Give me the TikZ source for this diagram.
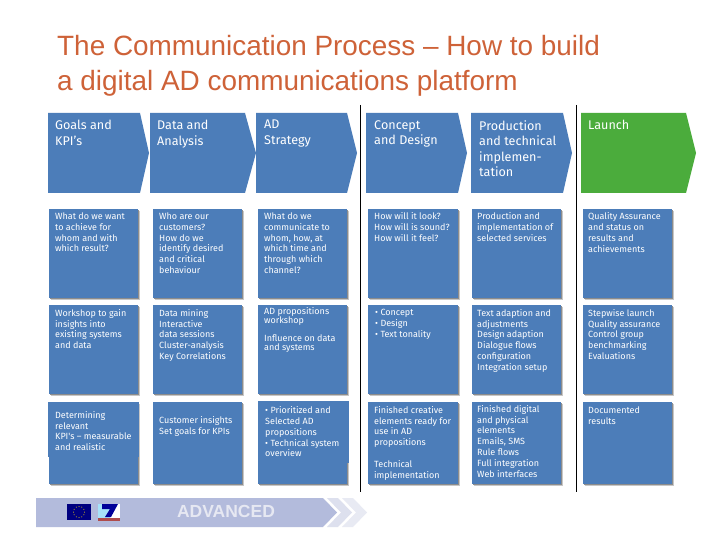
\documentclass[tikz,border=0pt]{standalone}
\usepackage{fontspec}
\setmainfont{Liberation Sans}
\newfontfamily\bodyfont{Fira Sans}
\usetikzlibrary{shadows}
\definecolor{barblue}{HTML}{4C7DB9}
\definecolor{launchgreen}{HTML}{4BAC3C}
\definecolor{titlered}{HTML}{CE6238}
\definecolor{bandcol}{HTML}{B3BBDC}
\definecolor{bandlight}{HTML}{DDE0EE}
\definecolor{bandlighter}{HTML}{E8EAF3}
\definecolor{advtext}{HTML}{E6E8F2}
\tikzset{
  x=1pt,y=-1pt,
  chev/.style={fill=barblue,draw=none},
  chevtext/.style={anchor=north west,inner sep=0pt,text=white,font=\bodyfont\fontsize{12.6}{15.5}\selectfont,align=left},
  cardbox/.style={fill=barblue,draw=none,
    general shadow={shadow xshift=1.8pt,shadow yshift=-1.8pt,fill=black!22},
    general shadow={shadow xshift=0.9pt,shadow yshift=-0.9pt,fill=black!45}},
  cardtext/.style={anchor=north west,inner sep=0pt,text=white,font=\bodyfont\fontsize{9}{10.8}\selectfont,align=left},
  divider/.style={draw=black,line width=1pt},
}
\newcommand{\card}[5]{% name, x0, y0, x1, y1
  \path[cardbox] (#2,#3) rectangle (#4,#5);
  \coordinate (#1) at (#2,#3);
}
\begin{document}
\begin{tikzpicture}
\useasboundingbox (0,0) rectangle (720,540);
\fill[white] (0,0) rectangle (720,540);
% title
\node[anchor=north west,inner sep=0pt,text=titlered,font=\fontsize{27.9}{35}\selectfont,align=left] (title) at (57,35)
  {The Communication Process – How to build\\a digital AD communications platform};
% dividers
\coordinate (d1a) at (360.7,105); \coordinate (d1b) at (360.7,492);
\coordinate (d2a) at (576.7,105); \coordinate (d2b) at (576.7,492);
\draw[divider] (d1a) -- (d1b);
\draw[divider] (d2a) -- (d2b);
% chevrons
\fill[chev] (48,113) -- (140,113) -- (149,153) -- (140,193) -- (48,193) -- cycle;
\fill[chev] (150,113) -- (245,113) -- (256,153) -- (245,193) -- (150,193) -- cycle;
\fill[chev] (256,113) -- (347,113) -- (357,153) -- (347,193) -- (256,193) -- cycle;
\fill[chev] (366,113) -- (458,113) -- (467,153) -- (458,193) -- (366,193) -- cycle;
\fill[chev] (471,113) -- (563,113) -- (572,153) -- (563,193) -- (471,193) -- cycle;
\fill[chev,fill=launchgreen] (581,113) -- (686,113) -- (696,153) -- (686,193) -- (581,193) -- cycle;
\node[chevtext] (h1) at (55,120) {Goals and\\KPI’s};
\node[chevtext] (h2) at (157,120) {Data and\\Analysis};
\node[chevtext] (h3) at (264,120) {AD\\Strategy};
\node[chevtext] (h4) at (374,120) {Concept\\and Design};
\node[chevtext] (h5) at (479,120) {Production\\and technical\\implemen-\\tation};
\node[chevtext] (h6) at (588,120) {Launch};
% row 1
\card{c11}{49}{209}{138}{298}
\card{c12}{153}{209}{242}{298}
\card{c13}{258}{209}{347}{298}
\card{c14}{368}{209}{458}{298}
\card{c15}{472}{209}{561}{298}
\card{c16}{583}{209}{672}{298}
% row 2
\card{c21}{49}{305}{138}{394}
\card{c22}{153}{305}{242}{394}
\card{c23}{258}{305}{347}{394}
\card{c24}{368}{305}{458}{394}
\card{c25}{472}{305}{561}{394}
\card{c26}{583}{305}{672}{394}
% row 3
\card{c31}{49}{402}{138}{484}
\card{c32}{153}{402}{242}{484}
\card{c33}{258}{402}{347}{484}
\card{c34}{368}{402}{458}{484}
\card{c35}{472}{402}{561}{484}
\card{c36}{583}{402}{672}{484}
\fill[barblue] (48,402) rectangle (139,457);
\fill[barblue] (258,401) rectangle (349,463);
% card texts row 1
\node[cardtext] (t11) at (55,212.5) {What do we want\\to achieve for\\whom and with\\which result?};
\node[cardtext] (t12) at (159,212.5) {Who are our\\customers?\\How do we\\identify desired\\and critical\\behaviour};
\node[cardtext] (t13) at (264,212.5) {What do we\\communicate to\\whom, how, at\\which time and\\through which\\channel?};
\node[cardtext] (t14) at (374,212.5) {How will it look?\\How will is sound?\\How will it feel?};
\node[cardtext] (t15) at (477,212.5) {Production and\\implementation of\\selected services};
\node[cardtext] (t16) at (588,212.5) {Quality Assurance\\and status on\\results and\\achievements};
% row 2
\node[cardtext] (t21) at (55,309) {Workshop  to gain\\insights into\\existing systems\\and data};
\node[cardtext] (t22) at (159,309) {Data mining\\Interactive\\data sessions\\Cluster-analysis\\Key Correlations};
\node[cardtext,font=\bodyfont\fontsize{9}{9}\selectfont] (t23) at (264,307.5) {AD propositions\\workshop\\[9pt]Influence on data\\and systems};
\node[cardtext] (t24) at (375,309) {• Concept\\• Design\\• Text tonality};
\node[cardtext] (t25) at (477,309) {Text adaption and\\adjustments\\Design adaption\\Dialogue flows\\configuration\\Integration setup};
\node[cardtext] (t26) at (588,309) {Stepwise launch\\Quality assurance\\Control group\\benchmarking\\Evaluations};
% row 3
\node[cardtext] (t31) at (55,411) {Determining\\relevant\\KPI's – measurable\\and realistic};
\node[cardtext] (t32) at (159,416) {Customer insights\\Set goals for KPIs};
\node[cardtext] (t33) at (265,406.5) {• Prioritized and\\Selected AD\\propositions\\• Technical system\\overview};
\node[cardtext] (t34) at (374,406) {Finished creative\\elements ready for\\use in AD\\propositions\\[10.8pt]Technical\\implementation};
\node[cardtext] (t35) at (477,405) {Finished digital\\and physical\\elements\\Emails, SMS\\Rule flows\\Full integration\\Web interfaces};
\node[cardtext] (t36) at (588,406.5) {Documented\\results};
% footer band
\fill[bandlighter] (342,498) -- (353,498) -- (367,512.5) -- (353,527) -- (342,527) -- (356,512.5) -- cycle;
\fill[bandlight] (327,498) -- (338,498) -- (352,512.5) -- (338,527) -- (327,527) -- (341,512.5) -- cycle;
\fill[bandcol] (36,498) -- (323,498) -- (337,512.5) -- (323,527) -- (36,527) -- cycle;
\node[inner sep=0pt,text=advtext,font=\bfseries\fontsize{17.5}{17.5}\selectfont] (adv) at (226,511) {ADVANCED};
% logos
\fill[blue!50!black] (67,504) rectangle (91,520);
\foreach \a in {0,30,...,330}
  \fill[yellow!80!orange] (79,512) ++(\a:5.5) circle (0.5);
\fill[white] (98,504) rectangle (120,521);
\fill[cyan!35!white] (98,504) rectangle (110,518);
\fill[blue!60!black] (102,504) -- (118,504) -- (111,517) -- (105,517) -- (110,509) -- (102,509) -- cycle;
\fill[red!55!black!70] (98,518) rectangle (120,521);
\end{tikzpicture}
\end{document}
